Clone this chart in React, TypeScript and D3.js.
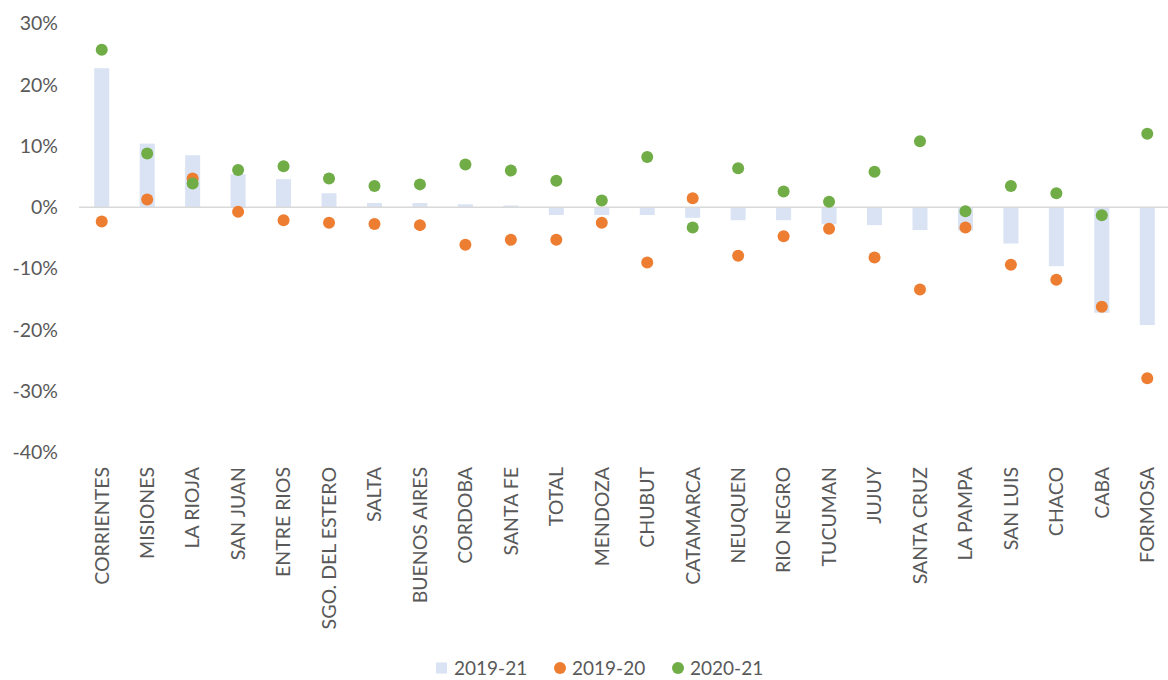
import * as d3 from 'd3';

const categories = [
  'CORRIENTES', 'MISIONES', 'LA RIOJA', 'SAN JUAN', 'ENTRE RIOS', 'SGO. DEL ESTERO',
  'SALTA', 'BUENOS AIRES', 'CORDOBA', 'SANTA FE', 'TOTAL', 'MENDOZA', 'CHUBUT',
  'CATAMARCA', 'NEUQUEN', 'RIO NEGRO', 'TUCUMAN', 'JUJUY', 'SANTA CRUZ', 'LA PAMPA',
  'SAN LUIS', 'CHACO', 'CABA', 'FORMOSA',
];

// variation 2019-21 (bars)
const var1921 = [
  22.7, 10.4, 8.5, 5.4, 4.6, 2.3, 0.7, 0.7, 0.5, 0.3, -1.25, -1.25, -1.25,
  -1.7, -2.1, -2.1, -2.7, -2.9, -3.7, -3.8, -5.9, -9.6, -17.2, -19.2,
];
// variation 2019-20 (orange dots)
const var1920 = [
  -2.3, 1.3, 4.7, -0.7, -2.1, -2.5, -2.7, -2.9, -6.1, -5.3, -5.3, -2.5, -9.0,
  1.5, -7.9, -4.7, -3.5, -8.2, -13.4, -3.3, -9.35, -11.8, -16.2, -27.9,
];
// variation 2020-21 (green dots)
const var2021 = [
  25.7, 8.8, 3.9, 6.1, 6.7, 4.7, 3.5, 3.75, 7.0, 6.0, 4.35, 1.1, 8.2,
  -3.3, 6.4, 2.6, 0.9, 5.8, 10.8, -0.65, 3.5, 2.3, -1.3, 12.0,
];

const yTicks = [30, 20, 10, 0, -10, -20, -30, -40];

const W = 1168;
const H = 680;
const FONT = 'Lato, "Open Sans", sans-serif';
const TXT = '#595959';
const BAR = '#dae3f3';
const ORANGE = '#ed7d31';
const GREEN = '#70ad47';

export default function App() {
  const x = d3.scaleBand<string>().domain(categories).range([79, 1170])
    .paddingInner(0.67).paddingOuter(0.335);
  const y = d3.scaleLinear().domain([-40, 30]).range([452.5, 23.5]);
  const cx = (c: string) => (x(c) ?? 0) + x.bandwidth() / 2;
  const legY = 668;

  return (
    <svg width={W} height={H} style={{ position: 'absolute', left: 0, top: 0, background: '#fff' }}
      fontFamily={FONT}>
      {/* y tick labels */}
      {yTicks.map(t => (
        <text key={t} x={58} y={y(t)} dy="0.35em" textAnchor="end" fontSize={19.5} fill={TXT}>
          {t}%
        </text>
      ))}

      {/* bars 2019-21 */}
      {categories.map((c, i) => (
        <rect key={c} x={x(c)} width={x.bandwidth()}
          y={y(Math.max(0, var1921[i]))} height={Math.abs(y(var1921[i]) - y(0))} fill={BAR} />
      ))}

      {/* zero line */}
      <line x1={79} x2={1168} y1={y(0)} y2={y(0)} stroke="#d9d9d9" strokeWidth={1.5} />

      {/* dots */}
      {categories.map((c, i) => (
        <circle key={'o' + c} cx={cx(c)} cy={y(var1920[i])} r={6} fill={ORANGE} />
      ))}
      {categories.map((c, i) => (
        <circle key={'g' + c} cx={cx(c)} cy={y(var2021[i])} r={6} fill={GREEN} />
      ))}

      {/* x labels */}
      {categories.map(c => (
        <text key={'l' + c} transform={`translate(${cx(c)},467) rotate(-90)`} dy="0.35em"
          textAnchor="end" fontSize={19.5} fill={TXT}>
          {c}
        </text>
      ))}

      {/* legend */}
      <g fontSize={19} fill={TXT}>
        <rect x={436} y={legY - 5.5} width={11} height={11} fill={BAR} />
        <text x={454} y={legY} dy="0.35em">2019-21</text>
        <circle cx={560} cy={legY} r={6} fill={ORANGE} />
        <text x={572} y={legY} dy="0.35em">2019-20</text>
        <circle cx={678} cy={legY} r={6} fill={GREEN} />
        <text x={690} y={legY} dy="0.35em">2020-21</text>
      </g>
    </svg>
  );
}
